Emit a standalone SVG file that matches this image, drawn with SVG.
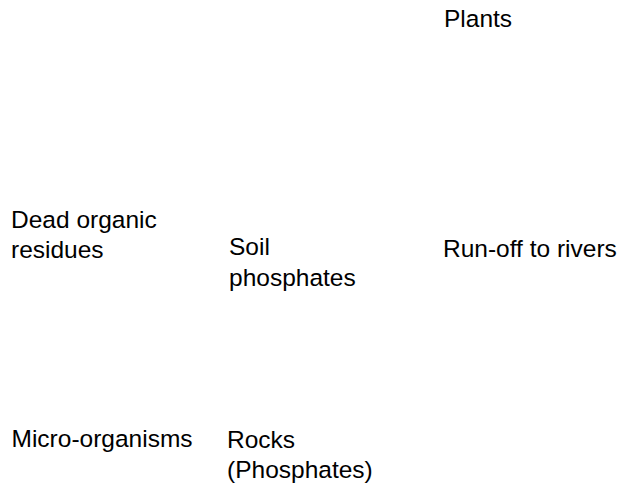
<svg xmlns="http://www.w3.org/2000/svg" width="623" height="493" viewBox="0 0 623 493">
<style>
.t{font-family:"Liberation Sans",Arial,sans-serif;font-size:24.5px;fill:#000}
</style>
<rect width="623" height="493" fill="#fff"/>
<g id="connectors"></g>
<g id="plants"><text class="t" x="444" y="27">Plants</text></g>
<g id="dead-organic-residues"><text class="t" x="11" y="228">Dead organic</text><text class="t" x="11" y="258">residues</text></g>
<g id="soil-phosphates"><text class="t" x="229" y="255">Soil</text><text class="t" x="229" y="285.5">phosphates</text></g>
<g id="run-off"><text class="t" x="443" y="257">Run-off to rivers</text></g>
<g id="micro-organisms"><text class="t" x="11.5" y="447">Micro-organisms</text></g>
<g id="rocks"><text class="t" x="227" y="448">Rocks</text><text class="t" x="227" y="478">(Phosphates)</text></g>
</svg>
